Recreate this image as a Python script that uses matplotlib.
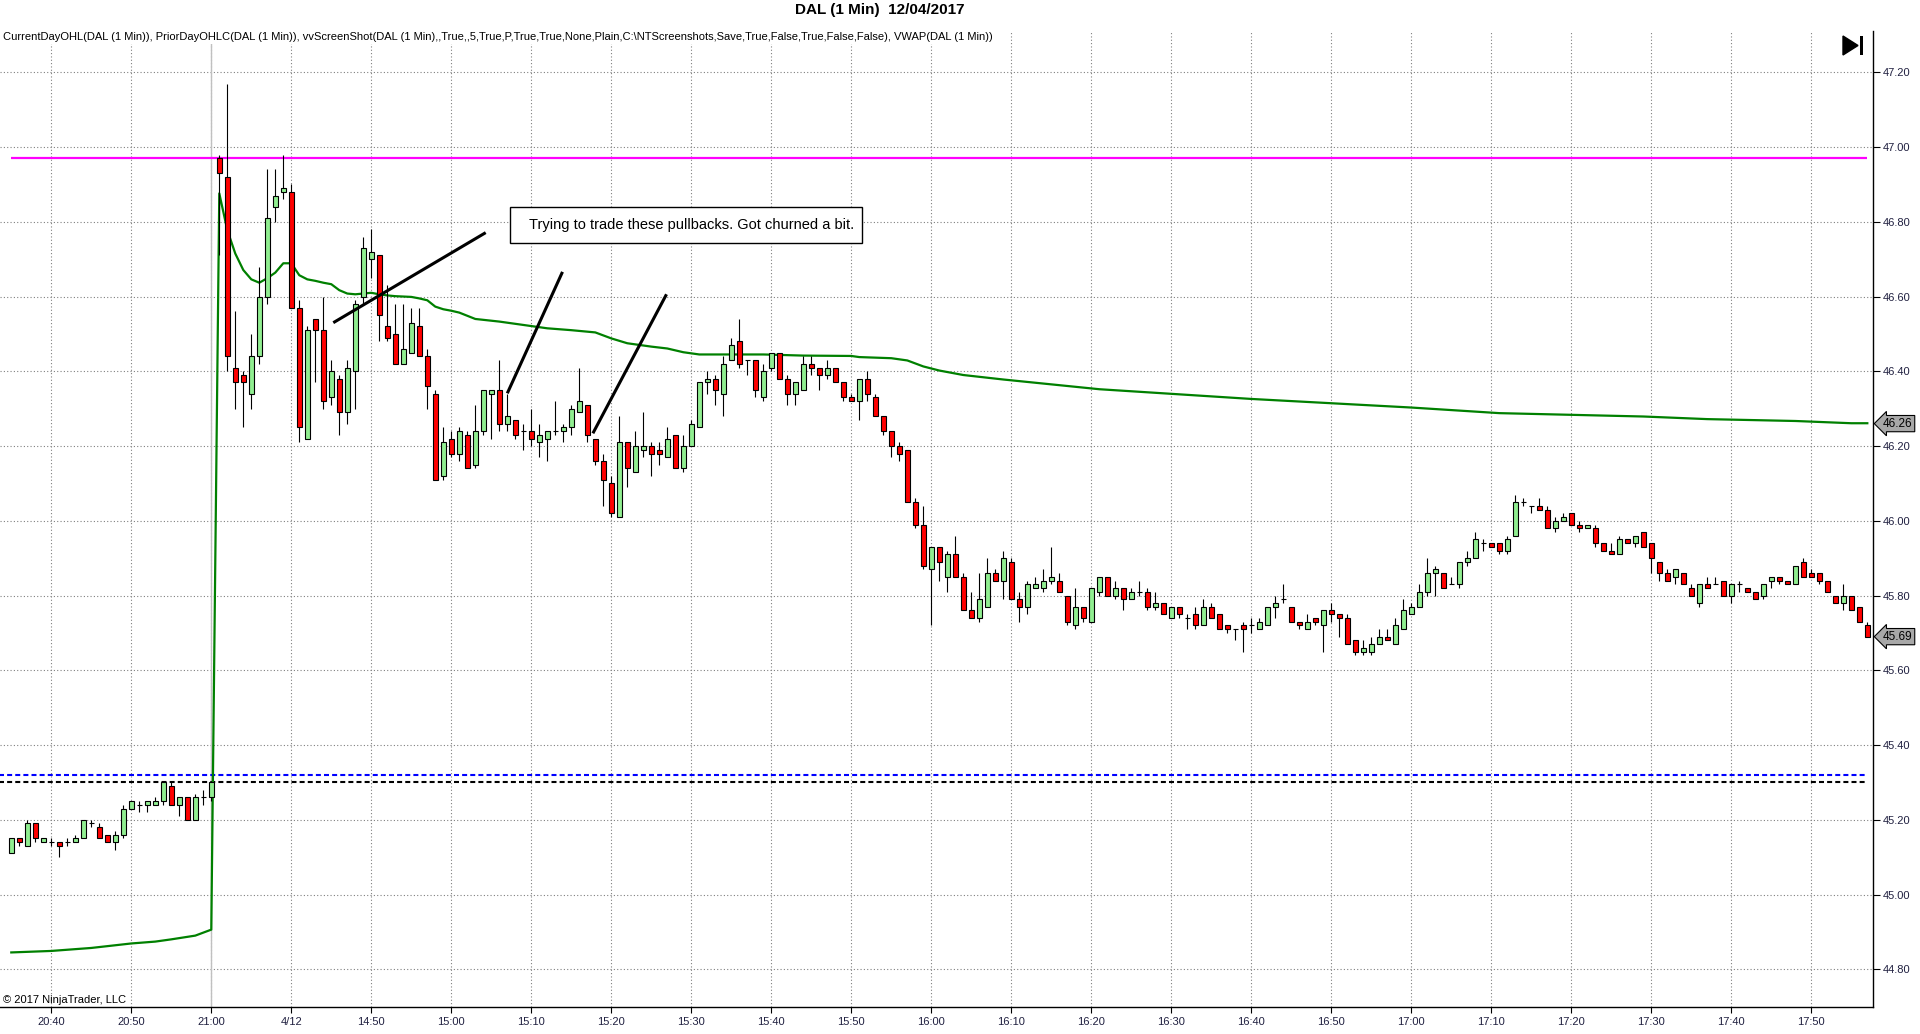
import matplotlib
matplotlib.use('Agg')
import matplotlib.pyplot as plt
import matplotlib.transforms as mtransforms
from matplotlib.patches import Polygon, Rectangle
import numpy as np
import pandas as pd

plt.rcParams['font.family'] = ['Liberation Sans', 'DejaVu Sans']

# 1-minute bars: end of the prior session, then the new session
times = (list(pd.date_range('2017-04-11 20:35', '2017-04-11 21:00', freq='min'))
         + list(pd.date_range('2017-04-12 14:31', '2017-04-12 17:57', freq='min')))

opens = [
    45.11, 45.15, 45.13, 45.19, 45.14, 45.14, 45.14, 45.14, 45.14, 45.15,
    45.19, 45.18, 45.16, 45.14, 45.16, 45.23, 45.24, 45.24, 45.24, 45.25,
    45.29, 45.24, 45.26, 45.20, 45.26, 45.26,
    46.97, 46.92, 46.41, 46.39, 46.34, 46.44, 46.60, 46.84, 46.88, 46.88,
    46.57, 46.22, 46.54, 46.51, 46.33, 46.38, 46.29, 46.40, 46.60, 46.70,
    46.71, 46.52, 46.50, 46.42, 46.45, 46.52, 46.44, 46.34, 46.12, 46.22,
    46.18, 46.23, 46.15, 46.24, 46.34, 46.35, 46.26, 46.27, 46.24, 46.24,
    46.21, 46.22, 46.24, 46.24, 46.25, 46.29, 46.31, 46.22, 46.16, 46.10,
    46.01, 46.21, 46.13, 46.19, 46.20, 46.19, 46.17, 46.23, 46.14, 46.20,
    46.25, 46.37, 46.38, 46.34, 46.43, 46.48, 46.43, 46.43, 46.33, 46.41,
    46.45, 46.38, 46.34, 46.35, 46.42, 46.41, 46.39, 46.41, 46.37, 46.33,
    46.32, 46.38, 46.33, 46.28, 46.24, 46.20, 46.19, 46.05, 45.99, 45.87,
    45.93, 45.85, 45.91, 45.85, 45.76, 45.74, 45.77, 45.86, 45.84, 45.89,
    45.79, 45.77, 45.82, 45.82, 45.84, 45.84, 45.80, 45.72, 45.77, 45.73,
    45.81, 45.85, 45.80, 45.82, 45.79, 45.81, 45.81, 45.77, 45.78, 45.74,
    45.77, 45.74, 45.75, 45.72, 45.77, 45.75, 45.72, 45.71, 45.72, 45.72,
    45.71, 45.72, 45.77, 45.79, 45.77, 45.73, 45.71, 45.74, 45.72, 45.76,
    45.75, 45.74, 45.68, 45.65, 45.65, 45.67, 45.69, 45.67, 45.71, 45.75,
    45.77, 45.81, 45.86, 45.86, 45.83, 45.83, 45.89, 45.90, 45.94, 45.94,
    45.94, 45.92, 45.96, 46.05, 46.04, 46.04, 46.03, 45.98, 46.00, 46.02,
    45.99, 45.98, 45.98, 45.94, 45.92, 45.91, 45.95, 45.94, 45.97, 45.94,
    45.89, 45.86, 45.85, 45.86, 45.82, 45.78, 45.83, 45.83, 45.84, 45.80,
    45.83, 45.82, 45.81, 45.80, 45.84, 45.85, 45.84, 45.83, 45.89, 45.86,
    45.86, 45.84, 45.80, 45.78, 45.80, 45.77, 45.72,
]
highs = [
    45.15, 45.15, 45.20, 45.19, 45.15, 45.15, 45.14, 45.15, 45.16, 45.20,
    45.20, 45.19, 45.16, 45.17, 45.24, 45.25, 45.25, 45.25, 45.26, 45.30,
    45.30, 45.26, 45.26, 45.27, 45.28, 45.30,
    46.98, 47.17, 46.56, 46.40, 46.50, 46.68, 46.94, 46.94, 46.98, 46.90,
    46.59, 46.52, 46.54, 46.60, 46.43, 46.39, 46.43, 46.59, 46.76, 46.78,
    46.71, 46.63, 46.58, 46.58, 46.57, 46.57, 46.46, 46.35, 46.25, 46.24,
    46.25, 46.24, 46.31, 46.35, 46.35, 46.43, 46.34, 46.27, 46.26, 46.30,
    46.26, 46.24, 46.32, 46.26, 46.31, 46.41, 46.31, 46.22, 46.18, 46.12,
    46.28, 46.21, 46.24, 46.29, 46.21, 46.21, 46.25, 46.23, 46.23, 46.27,
    46.37, 46.40, 46.39, 46.44, 46.49, 46.54, 46.43, 46.43, 46.42, 46.45,
    46.45, 46.39, 46.37, 46.44, 46.44, 46.41, 46.43, 46.41, 46.37, 46.34,
    46.38, 46.40, 46.34, 46.28, 46.24, 46.21, 46.19, 46.06, 46.04, 45.93,
    45.93, 45.92, 45.96, 45.86, 45.81, 45.86, 45.90, 45.87, 45.92, 45.90,
    45.81, 45.84, 45.85, 45.87, 45.93, 45.86, 45.80, 45.82, 45.77, 45.82,
    45.85, 45.85, 45.84, 45.82, 45.82, 45.84, 45.82, 45.81, 45.78, 45.77,
    45.77, 45.75, 45.77, 45.79, 45.78, 45.75, 45.72, 45.71, 45.73, 45.74,
    45.74, 45.77, 45.80, 45.83, 45.77, 45.73, 45.75, 45.74, 45.76, 45.78,
    45.75, 45.75, 45.68, 45.68, 45.69, 45.71, 45.71, 45.74, 45.79, 45.78,
    45.83, 45.90, 45.88, 45.86, 45.85, 45.89, 45.92, 45.97, 45.95, 45.94,
    45.94, 45.96, 46.07, 46.06, 46.04, 46.06, 46.04, 46.01, 46.02, 46.02,
    46.00, 45.99, 45.99, 45.94, 45.94, 45.96, 45.95, 45.96, 45.97, 45.94,
    45.89, 45.87, 45.87, 45.86, 45.83, 45.83, 45.85, 45.85, 45.84, 45.83,
    45.84, 45.82, 45.81, 45.83, 45.85, 45.85, 45.84, 45.88, 45.90, 45.87,
    45.86, 45.84, 45.80, 45.83, 45.80, 45.77, 45.73,
]
lows = [
    45.11, 45.13, 45.13, 45.14, 45.14, 45.13, 45.10, 45.13, 45.14, 45.15,
    45.18, 45.15, 45.14, 45.12, 45.15, 45.23, 45.22, 45.22, 45.24, 45.24,
    45.24, 45.21, 45.20, 45.20, 45.24, 45.25,
    46.71, 46.40, 46.30, 46.25, 46.30, 46.42, 46.58, 46.80, 46.86, 46.57,
    46.21, 46.22, 46.37, 46.30, 46.31, 46.23, 46.26, 46.30, 46.58, 46.65,
    46.48, 46.48, 46.42, 46.42, 46.45, 46.44, 46.30, 46.11, 46.11, 46.17,
    46.16, 46.14, 46.14, 46.23, 46.22, 46.24, 46.24, 46.22, 46.19, 46.20,
    46.17, 46.16, 46.23, 46.21, 46.23, 46.29, 46.21, 46.15, 46.04, 46.01,
    46.01, 46.09, 46.13, 46.17, 46.12, 46.15, 46.17, 46.14, 46.13, 46.20,
    46.25, 46.34, 46.31, 46.28, 46.43, 46.41, 46.39, 46.33, 46.32, 46.40,
    46.38, 46.31, 46.31, 46.35, 46.39, 46.35, 46.38, 46.37, 46.32, 46.32,
    46.27, 46.32, 46.28, 46.23, 46.17, 46.16, 46.05, 45.98, 45.87, 45.72,
    45.84, 45.81, 45.85, 45.76, 45.74, 45.73, 45.77, 45.84, 45.79, 45.79,
    45.73, 45.75, 45.82, 45.81, 45.83, 45.81, 45.72, 45.71, 45.73, 45.73,
    45.80, 45.80, 45.79, 45.76, 45.79, 45.80, 45.76, 45.76, 45.75, 45.74,
    45.74, 45.71, 45.71, 45.72, 45.74, 45.71, 45.70, 45.68, 45.65, 45.70,
    45.71, 45.72, 45.74, 45.78, 45.73, 45.71, 45.71, 45.72, 45.65, 45.73,
    45.69, 45.67, 45.64, 45.64, 45.64, 45.67, 45.68, 45.67, 45.71, 45.75,
    45.77, 45.80, 45.80, 45.82, 45.83, 45.82, 45.88, 45.90, 45.92, 45.93,
    45.91, 45.91, 45.96, 46.04, 46.02, 46.03, 45.98, 45.97, 46.00, 45.99,
    45.97, 45.98, 45.93, 45.92, 45.91, 45.91, 45.94, 45.93, 45.93, 45.86,
    45.84, 45.84, 45.83, 45.83, 45.80, 45.77, 45.82, 45.83, 45.80, 45.78,
    45.81, 45.81, 45.79, 45.79, 45.82, 45.83, 45.83, 45.83, 45.85, 45.85,
    45.83, 45.81, 45.78, 45.76, 45.76, 45.73, 45.69,
]
closes = [
    45.15, 45.14, 45.19, 45.15, 45.15, 45.14, 45.13, 45.14, 45.15, 45.20,
    45.19, 45.15, 45.14, 45.16, 45.23, 45.25, 45.24, 45.25, 45.25, 45.30,
    45.24, 45.26, 45.20, 45.26, 45.26, 45.30,
    46.93, 46.44, 46.37, 46.37, 46.44, 46.60, 46.81, 46.87, 46.89, 46.57,
    46.25, 46.51, 46.51, 46.32, 46.40, 46.29, 46.41, 46.58, 46.73, 46.72,
    46.55, 46.49, 46.42, 46.46, 46.53, 46.44, 46.36, 46.11, 46.21, 46.18,
    46.24, 46.14, 46.24, 46.35, 46.35, 46.26, 46.28, 46.23, 46.24, 46.22,
    46.23, 46.24, 46.24, 46.25, 46.30, 46.32, 46.23, 46.16, 46.11, 46.02,
    46.21, 46.14, 46.20, 46.20, 46.18, 46.18, 46.22, 46.14, 46.20, 46.26,
    46.37, 46.38, 46.35, 46.42, 46.47, 46.42, 46.43, 46.35, 46.40, 46.45,
    46.38, 46.34, 46.37, 46.42, 46.41, 46.39, 46.41, 46.37, 46.33, 46.32,
    46.38, 46.34, 46.28, 46.24, 46.20, 46.18, 46.05, 45.99, 45.88, 45.93,
    45.89, 45.91, 45.85, 45.76, 45.74, 45.79, 45.86, 45.84, 45.90, 45.79,
    45.77, 45.83, 45.83, 45.84, 45.85, 45.81, 45.73, 45.77, 45.74, 45.82,
    45.85, 45.80, 45.82, 45.79, 45.81, 45.81, 45.77, 45.78, 45.75, 45.77,
    45.75, 45.74, 45.72, 45.77, 45.74, 45.71, 45.71, 45.71, 45.71, 45.72,
    45.73, 45.77, 45.78, 45.79, 45.73, 45.72, 45.73, 45.73, 45.76, 45.75,
    45.74, 45.67, 45.65, 45.66, 45.67, 45.69, 45.68, 45.72, 45.76, 45.77,
    45.81, 45.86, 45.87, 45.82, 45.83, 45.89, 45.90, 45.95, 45.94, 45.93,
    45.92, 45.95, 46.05, 46.05, 46.04, 46.03, 45.98, 46.00, 46.01, 45.99,
    45.98, 45.99, 45.94, 45.92, 45.91, 45.95, 45.94, 45.96, 45.93, 45.90,
    45.86, 45.84, 45.87, 45.83, 45.80, 45.83, 45.82, 45.83, 45.80, 45.83,
    45.83, 45.81, 45.79, 45.83, 45.85, 45.84, 45.83, 45.88, 45.85, 45.85,
    45.84, 45.81, 45.78, 45.80, 45.76, 45.73, 45.69,
]

# VWAP read at selected bars
vwap_bars = [0, 5, 10, 15, 18, 20, 23, 25,
             26, 27, 28, 29, 30, 31, 32, 33, 34, 35, 36, 37, 38, 39, 40, 41,
             42, 43, 44, 45, 46, 47, 48, 49, 50, 51, 52, 53, 54, 55, 56,
             58, 61, 64, 67, 70, 73, 75, 77, 80, 82, 84, 86,
             90, 94, 99, 105, 106, 110, 112, 114, 116, 119,
             124, 136, 155, 175, 186, 204, 212, 223, 230, 232]
vwap_vals = [44.845, 44.849, 44.857, 44.869, 44.874, 44.880, 44.890, 44.906,
             46.876, 46.778, 46.715, 46.671, 46.646, 46.637, 46.649, 46.664,
             46.689, 46.689, 46.657, 46.646, 46.642, 46.637, 46.633, 46.617,
             46.608, 46.606, 46.608, 46.610, 46.606, 46.603, 46.601, 46.600,
             46.599, 46.595, 46.590, 46.573, 46.566, 46.562, 46.557,
             46.540, 46.533, 46.524, 46.515, 46.510, 46.504, 46.488, 46.475,
             46.466, 46.461, 46.451, 46.445,
             46.445, 46.445, 46.442, 46.441, 46.438, 46.435, 46.429, 46.413,
             46.402, 46.390,
             46.378, 46.352, 46.326, 46.303, 46.288, 46.279, 46.272, 46.267,
             46.261, 46.261]

prior_high = 45.32
prior_close = 45.30
day_high = 46.97
last_vwap = 46.26
last_close = 45.69

# hand-drawn trend lines: (bar0, price0, bar1, price1)
trend_lines = [(40.25, 46.530, 59.3, 46.771),
               (62.0, 46.341, 68.9, 46.666),
               (72.7, 46.234, 81.9, 46.606)]
note_text = 'Trying to trade these pullbacks. Got churned a bit.'
header = ('CurrentDayOHL(DAL (1 Min)), PriorDayOHLC(DAL (1 Min)), vvScreenShot(DAL (1 Min),,True,,5,True,P,'
          'True,True,None,Plain,C:\\NTScreenshots,Save,True,False,True,False,False), VWAP(DAL (1 Min))')
title = 'DAL (1 Min)  12/04/2017'

W, H = 1920, 1034
LABEL_COLOR = '#202040'
GRID_COLOR = '#808080'

fig = plt.figure(figsize=(W / 100, H / 100), dpi=100)
ax = fig.add_axes([0, 27 / H, 1873 / W, (1007 - 31) / H])

x = np.arange(len(opens))
o = np.array(opens)
h = np.array(highs)
l = np.array(lows)
c = np.array(closes)
up = c > o + 1e-9
dn = c < o - 1e-9
flat = ~(up | dn)

# grid
tick_pos = [i for i, t in enumerate(times) if t.minute % 10 == 0]
tick_lab = []
new_day_seen = False
for i in tick_pos:
    t = times[i]
    if t.date() == times[-1].date() and not new_day_seen:
        tick_lab.append(f'{t.month}/{t.day}')
        new_day_seen = True
    else:
        tick_lab.append(t.strftime('%H:%M'))

for i in tick_pos:
    ax.axvline(i, color=GRID_COLOR, lw=0.8, ls=(0, (1, 2)), zorder=1)
yt = np.round(np.arange(44.8, 47.21, 0.2), 2)
for v in yt:
    ax.axhline(v, color=GRID_COLOR, lw=0.8, ls=(0, (1, 2)), zorder=1)
# session break
brk = [i for i in range(1, len(times)) if times[i].date() != times[i - 1].date()][0] - 1
ax.axvline(brk, color='#c0c0c0', lw=1.0, zorder=1.5)

# reference lines
x_end = len(opens) - 1
ax.hlines(day_high, 0, x_end, color='#ff00ff', lw=1.6, zorder=2)
ax.hlines(prior_high, -2, x_end, color='#0000ff', lw=1.5, ls=(0, (2.4, 1.5)), zorder=2)
ax.hlines(prior_close, -2, x_end, color='black', lw=1.5, ls=(0, (2.4, 1.5)), zorder=2)

# VWAP
ax.plot(vwap_bars, vwap_vals, color='#008000', lw=1.6, zorder=2.5)

# candles
ax.vlines(x, l, h, color='black', lw=0.8, zorder=3)
for mask, col in ((up, '#90ee90'), (dn, '#ff0000')):
    ax.bar(x[mask], np.abs(c - o)[mask], bottom=np.minimum(o, c)[mask], width=0.62,
           color=col, edgecolor='black', linewidth=0.8, zorder=4)
ax.hlines(c[flat], x[flat] - 0.33, x[flat] + 0.33, color='black', lw=0.8, zorder=4)

# drawings
for x0, y0, x1, y1 in trend_lines:
    ax.plot([x0, x1], [y0, y1], color='black', lw=2.2, solid_capstyle='butt', zorder=5)
ax.add_patch(Rectangle((62.3, 46.742), 44.0, 0.097, fc='white', ec='black', lw=1.0, zorder=6))
ax.text(64.7, 46.7905, note_text, fontsize=10.5, va='center', ha='left', zorder=7)

ax.set_xlim(-1.41, 232.71)
ax.set_ylim(44.699, 47.3105)

ax.set_xticks(tick_pos)
ax.set_xticklabels(tick_lab)
ax.yaxis.tick_right()
ax.set_yticks(yt)
ax.set_yticklabels([f'{v:.2f}' for v in yt])
ax.tick_params(axis='x', direction='out', length=4, width=0.8, pad=3,
               labelsize=8, labelcolor=LABEL_COLOR)
ax.tick_params(axis='y', direction='out', length=5, width=0.8, pad=2,
               labelsize=8, labelcolor=LABEL_COLOR)
for side in ('left', 'top'):
    ax.spines[side].set_visible(False)
for side in ('right', 'bottom'):
    ax.spines[side].set_linewidth(1.0)
    ax.spines[side].set_color('black')

# last-value markers on the price axis
trans = mtransforms.blended_transform_factory(ax.transAxes, ax.transData)
for val in (last_vwap, last_close):
    ax.text(1.0 + 10 / 1873, val, f'{val:.2f}', transform=trans, ha='left', va='center',
            fontsize=8.5, color='black', clip_on=False, zorder=10,
            bbox=dict(boxstyle='larrow,pad=0.18', fc='#a8a8a8', ec='black', lw=0.8))

# header texts
fig.text(880 / W, 1 - 10 / H, title, ha='center', va='center', fontsize=11, fontweight='bold')
fig.text(3 / W, 1 - 37 / H, header, ha='left', va='center', fontsize=8, color='black',
         bbox=dict(fc='white', ec='none', pad=1.5))
fig.text(3 / W, 1 - 1000 / H, '\u00a9 2017 NinjaTrader, LLC', ha='left', va='center',
         fontsize=8, color='black')

# "scroll to end" icon
fig.patches.append(Polygon([(1843 / W, 1 - 36 / H), (1843 / W, 1 - 55 / H), (1858 / W, 1 - 45.5 / H)],
                           closed=True, fc='black', ec='black', transform=fig.transFigure, figure=fig))
fig.patches.append(Rectangle((1860 / W, 1 - 55 / H), 3 / W, 19 / H, fc='black', ec='none',
                             transform=fig.transFigure, figure=fig))

fig.savefig('out.png', dpi=100, facecolor='white')
